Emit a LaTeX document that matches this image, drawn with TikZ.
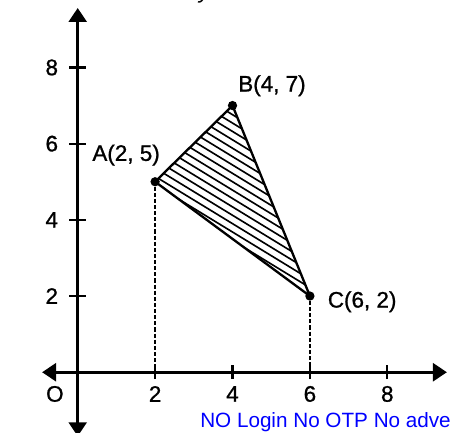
\documentclass[tikz,border=0pt]{standalone}
\usepackage{fontspec}
\setmainfont{Liberation Sans}
\newfontfamily\scanfont{Liberation Sans}[FakeBold=1]
\usetikzlibrary{arrows.meta}
\begin{document}
\begin{tikzpicture}[x=1cm,y=0.9845cm,
  font=\scanfont\fontsize{16.5}{19}\selectfont,
  axisline/.style={line width=2.2pt,
    {Triangle[length=3.6mm,width=4.6mm]}-{Triangle[length=3.6mm,width=4.6mm]}},
  ticmark/.style={line width=1.6pt},
  side/.style={line width=1.7pt,line join=round},
  hatch/.style={line width=1.2pt},
  guide/.style={line width=1pt,dash pattern=on 3pt off 1.5pt},
  dot/.style={circle,fill=black,inner sep=0pt,minimum size=2.4mm}]
  \useasboundingbox (-2.008,-1.593) rectangle (9.62,9.77);
  % axes
  \coordinate (O) at (0,0);
  \coordinate (xl) at (-0.92,0); \coordinate (xr) at (9.54,0);
  \coordinate (yb) at (0,-1.68); \coordinate (yt) at (0,9.56);
  \draw[axisline] (xl) -- (xr);
  \draw[axisline] (yb) -- (yt);
  \foreach \k in {2,4,6,8} {
    \draw[ticmark] (\k,-0.18) -- (\k,0.18);
    \draw[ticmark] (-0.22,\k) -- (0.22,\k);
    \node (xlab\k) at (\k,-0.57) {\k};
    \node (ylab\k) at (-0.67,\k) {\k};
  }
  \node (olab) at (-0.59,-0.57) {O};
  \node[anchor=base,font=\fontsize{16.5}{19}\selectfont\itshape] (ylab) at (3.28,9.82) {y};
  % triangle
  \node[dot] (A) at (2,5) {};
  \node[dot] (B) at (4,7) {};
  \node[dot] (C) at (6,2) {};
  \begin{scope}
    \clip (A.center) -- (B.center) -- (C.center) -- cycle;
    \foreach \c in {5.5,5.72,...,9.6}
      \draw[hatch] (1.5,\c-0.93) -- (6.5,\c-4.03);
  \end{scope}
  \draw[side] (A.center) -- (B.center) -- (C.center) -- cycle;
  \draw[guide] (A) -- (A |- O);
  \draw[guide] (C) -- (C |- O);
  \node (Alab) at (1.25,5.70) {A(2, 5)};
  \node (Blab) at (5.02,7.52) {B(4, 7)};
  \node (Clab) at (7.35,1.85) {C(6, 2)};
  \node[anchor=base west,inner sep=0pt,text=blue,font=\normalfont\fontsize{15.2}{17}\selectfont] (note) at (3.16,-1.46) {NO Login No OTP No adve};
\end{tikzpicture}
\end{document}
